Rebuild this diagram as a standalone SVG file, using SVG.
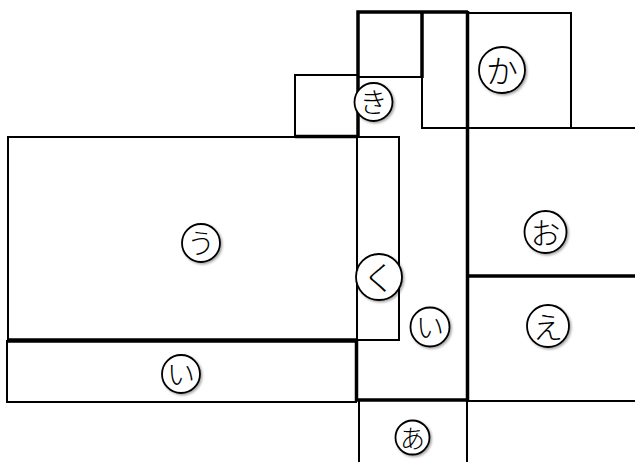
<svg xmlns="http://www.w3.org/2000/svg" width="635" height="462" viewBox="0 0 635 462">
<style>
.w{fill:none;stroke:#000;stroke-width:2}
.t{fill:none;stroke:#000;stroke-width:3.5}
.c{fill:#fff;stroke:#000;stroke-width:1.8;filter:url(#sh)}
.l{font-family:"Noto Sans CJK JP","Noto Sans CJK SC",sans-serif;font-weight:300;fill:#000;text-anchor:middle;dominant-baseline:central}
</style>
<defs>
<filter id="sh" x="-30%" y="-30%" width="170%" height="170%">
<feDropShadow dx="1.5" dy="1.5" stdDeviation="1.2" flood-color="#000" flood-opacity="0.35"/>
</filter>
</defs>
<rect width="635" height="462" fill="#fff"/>
<g id="lines">
<rect class="w" x="422" y="12" width="45" height="116"/>
<line class="w" x1="467" y1="128" x2="635" y2="128"/>
<line class="w" x1="467" y1="401" x2="635" y2="401"/>
<line class="t" x1="467" y1="276" x2="635" y2="276"/>
<line class="w" x1="467" y1="401" x2="467" y2="462"/>
<line class="w" x1="359" y1="401" x2="359" y2="462"/>
<line class="t" x1="356.5" y1="340" x2="356.5" y2="401"/>
<line class="t" x1="356" y1="400" x2="468" y2="400"/>
<line class="t" x1="467.5" y1="11" x2="467.5" y2="401"/>
</g>
<g id="sq-top">
<rect class="w" x="358" y="12" width="64" height="65"/>
<path class="t" d="M358,137 V12 H468 M422,12 V78"/>
</g>
<g id="ka">
<rect class="w" x="467" y="13" width="104" height="115"/>
<circle class="c" cx="502" cy="70" r="23"/>
<text class="l" x="502" y="69" font-size="32">か</text>
</g>
<g id="ki">
<rect class="w" x="295" y="75" width="63" height="62"/>
<line class="t" x1="295" y1="136.5" x2="358" y2="136.5"/>
<circle class="c" cx="373.5" cy="102" r="19"/>
<text class="l" x="373.5" y="101" font-size="28">き</text>
</g>
<g id="u">
<rect class="w" x="8" y="137" width="349" height="203"/>
<line class="t" x1="7" y1="340" x2="357" y2="340"/>
<circle class="c" cx="201" cy="243" r="19"/>
<text class="l" x="201" y="242" font-size="28">う</text>
</g>
<g id="ku">
<rect class="w" x="357" y="137" width="42" height="203"/>
<circle class="c" cx="379" cy="277" r="23"/>
<text class="l" x="379" y="276" font-size="33">く</text>
</g>
<g id="i-mid">
<circle class="c" cx="430" cy="327" r="19.5"/>
<text class="l" x="430" y="326" font-size="28">い</text>
</g>
<g id="i-bottom">
<rect class="w" x="7" y="341" width="349" height="61"/>
<line class="t" x1="7" y1="341" x2="356" y2="341"/>
<circle class="c" cx="181" cy="374" r="19"/>
<text class="l" x="181" y="373" font-size="28">い</text>
</g>
<g id="a">
<circle class="c" cx="412.5" cy="437.5" r="17"/>
<text class="l" x="412.5" y="436.5" font-size="25">あ</text>
</g>
<g id="o">
<circle class="c" cx="545.5" cy="232" r="21"/>
<text class="l" x="545.5" y="231" font-size="30">お</text>
</g>
<g id="e">
<circle class="c" cx="548" cy="326" r="21"/>
<text class="l" x="548" y="325" font-size="30">え</text>
</g>
</svg>
